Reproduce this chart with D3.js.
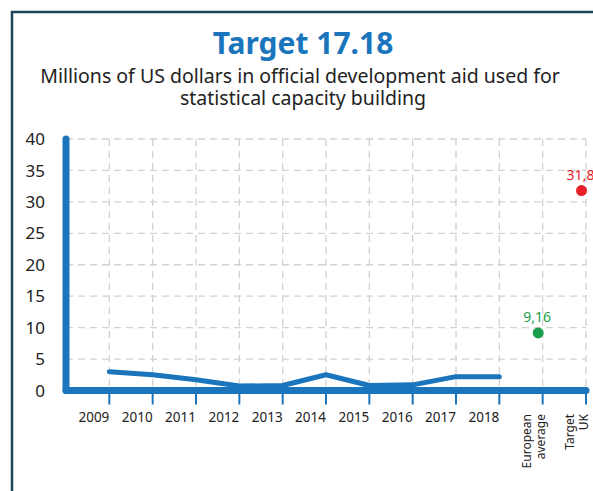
<!DOCTYPE html>
<html><head><meta charset="utf-8">
<script src="https://cdn.jsdelivr.net/npm/d3@7"></script>
<style>html,body{margin:0;padding:0;background:#fff;}svg{display:block;}</style>
</head><body>
<svg id="chart" width="593" height="491"></svg>
<script>
const categories = ["2009","2010","2011","2012","2013","2014","2015","2016","2017","2018","European average","Target UK"];
const years = ["2009","2010","2011","2012","2013","2014","2015","2016","2017","2018"];
const ukValues = [3.0, 2.5, 1.7, 0.7, 0.8, 2.5, 0.8, 0.9, 2.2, 2.2];
const europeanAverage = 9.16;
const targetUK = 31.8;
const pointLabels = ["9,16", "31,8"];
const yTicks = [0,5,10,15,20,25,30,35,40];
const categoryLabelLines = {"European average":["European","average"],"Target UK":["Target","UK"]};

const blue = "#1a75bc", green = "#1b9e4b", red = "#e82128", textCol = "#222";
const font = "'Noto Sans', sans-serif";
const svg = d3.select("#chart");

// frame
svg.append("rect").attr("x",12).attr("y",12).attr("width",620).attr("height",520)
  .attr("fill","none").attr("stroke","#1d4656").attr("stroke-width",2.5);

// titles
svg.append("text").attr("x",303).attr("y",53.5).attr("text-anchor","middle")
  .attr("font-family",font).attr("font-weight","bold").attr("font-size",30)
  .attr("fill",blue).text("Target 17.18");
const sub = svg.append("text").attr("text-anchor","middle").attr("font-family",font)
  .attr("font-size",19.5).attr("fill",textCol);
sub.append("tspan").attr("x",300).attr("y",83).text("Millions of US dollars in official development aid used for");
sub.append("tspan").attr("x",303).attr("y",105).text("statistical capacity building");

const x = d3.scaleBand().domain(categories).range([66,586]).padding(0);
const px = c => x(c) + x.bandwidth();
const y = d3.scaleLinear().domain([0,40]).range([390.5,139]);

// grid
const grid = svg.append("g").attr("stroke","#d2d2d2").attr("stroke-width",1.3).attr("stroke-dasharray","7,5");
yTicks.filter(t=>t>0).forEach(t=>{
  grid.append("line").attr("x1",66).attr("x2",586).attr("y1",y(t)).attr("y2",y(t));
});
categories.forEach(c=>{
  grid.append("line").attr("x1",px(c)).attr("x2",px(c)).attr("y1",y(40)).attr("y2",y(0));
});

// y labels
svg.append("g").selectAll("text").data(yTicks).join("text")
  .attr("x",45).attr("y",d=>y(d)).attr("dy","0.36em").attr("text-anchor","end")
  .attr("font-family",font).attr("font-size",17).attr("fill",textCol).text(d=>d);

// x ticks
svg.append("g").selectAll("line").data(categories).join("line")
  .attr("x1",d=>px(d)).attr("x2",d=>px(d)).attr("y1",y(0)).attr("y2",y(0)+14)
  .attr("stroke",blue).attr("stroke-width",2);

// x labels
const xl = svg.append("g").attr("font-family",font).attr("fill",textCol);
categories.forEach(c=>{
  if (categoryLabelLines[c]) {
    const t = xl.append("text").attr("transform",`translate(${px(c)},414) rotate(-90)`)
      .attr("text-anchor","end").attr("font-size",12);
    const lines = categoryLabelLines[c];
    t.append("tspan").attr("x",0).attr("y",-12).text(lines[0]);
    t.append("tspan").attr("x",0).attr("y",2).text(lines[1]);
  } else {
    xl.append("text").attr("x",px(c)).attr("y",421.5).attr("text-anchor","end")
      .attr("font-size",13.5).text(c);
  }
});

// axes
svg.append("line").attr("x1",66).attr("x2",66).attr("y1",y(40)).attr("y2",y(0))
  .attr("stroke",blue).attr("stroke-width",7).attr("stroke-linecap","round");
svg.append("line").attr("x1",66).attr("x2",586).attr("y1",y(0)).attr("y2",y(0))
  .attr("stroke",blue).attr("stroke-width",7).attr("stroke-linecap","round");

// line
const line = d3.line().x((d,i)=>px(years[i])).y(d=>y(d));
svg.append("path").datum(ukValues).attr("d",line).attr("fill","none")
  .attr("stroke",blue).attr("stroke-width",5).attr("stroke-linecap","round").attr("stroke-linejoin","round");

// points
const pts = [
  {c:"European average", v:europeanAverage, col:green, lab:pointLabels[0]},
  {c:"Target UK", v:targetUK, col:red, lab:pointLabels[1]}
];
pts.forEach(p=>{
  svg.append("circle").attr("cx",px(p.c)-4.5).attr("cy",y(p.v)).attr("r",5.5).attr("fill",p.col);
  svg.append("text").attr("x",px(p.c)-5.5).attr("y",y(p.v)-11).attr("text-anchor","middle")
    .attr("font-family",font).attr("font-size",14).attr("fill",p.col).text(p.lab);
});
</script>
</body></html>
